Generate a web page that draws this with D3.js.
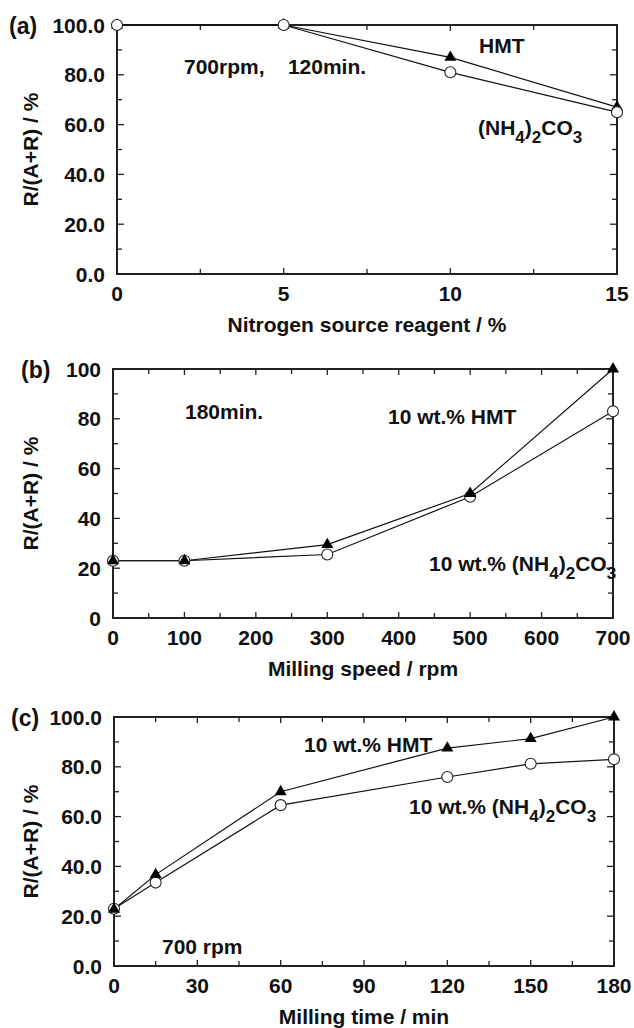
<!DOCTYPE html>
<html>
<head>
<meta charset="utf-8">
<script src="https://cdn.jsdelivr.net/npm/d3@7"></script>
<style>
  html, body { margin: 0; padding: 0; background: #fff; }
  svg { display: block; }
  text { font-family: "Liberation Sans", Arial, sans-serif; font-weight: bold; fill: #111; }
</style>
</head>
<body>
<svg id="chart" width="634" height="1028"></svg>
<script>
// ---- (a) nitrogen source amount, 700 rpm / 120 min ----
const reagentPct = [0, 5, 10, 15];
const hmtByReagent = [100, 100, 87, 67];
const carbByReagent = [100, 100, 81, 65];
const reagentTicks = [0, 5, 10, 15];

// ---- (b) milling speed, 180 min ----
const speedRpm = [0, 100, 300, 500, 700];
const hmtBySpeed = [23, 23, 29.5, 50, 100];
const carbBySpeed = [23, 23, 25.5, 48.7, 83];
const speedTicks = [0, 100, 200, 300, 400, 500, 600, 700];

// ---- (c) milling time, 700 rpm ----
const timeMin = [0, 15, 60, 120, 150, 180];
const hmtByTime = [22.8, 36.7, 70, 87.5, 91.3, 100];
const carbByTime = [23, 33.5, 64.6, 75.9, 81.2, 83];
const timeTicks = [0, 30, 60, 90, 120, 150, 180];

const yTicks = [0, 20, 40, 60, 80, 100];

const svg = d3.select("#chart");

function panel(cfg) {
  const g = svg.append("g");
  const x = d3.scaleLinear().domain(cfg.xDomain).range([cfg.left, cfg.right]);
  const y = d3.scaleLinear().domain([0, 100]).range([cfg.bottom, cfg.top]);

  // inward ticks on all four sides (major + minor)
  const minorX = d3.range(cfg.xDomain[0], cfg.xDomain[1] + 1e-9, cfg.xMinor);
  const minorY = d3.range(0, 100 + 1e-9, 10);
  const tickG = g.append("g").attr("stroke", "#222").attr("stroke-width", 1.3);
  minorX.forEach(v => {
    const major = cfg.xTicks.includes(v);
    const len = major ? 6 : 5;
    tickG.append("line").attr("x1", x(v)).attr("x2", x(v))
      .attr("y1", cfg.bottom).attr("y2", cfg.bottom - len);
    tickG.append("line").attr("x1", x(v)).attr("x2", x(v))
      .attr("y1", cfg.top).attr("y2", cfg.top + len);
  });
  minorY.forEach(v => {
    const major = yTicks.includes(v);
    const len = major ? 7 : 5;
    tickG.append("line").attr("y1", y(v)).attr("y2", y(v))
      .attr("x1", cfg.left).attr("x2", cfg.left + len);
    tickG.append("line").attr("y1", y(v)).attr("y2", y(v))
      .attr("x1", cfg.right).attr("x2", cfg.right - len);
  });

  // frame
  g.append("rect")
    .attr("x", cfg.left).attr("y", cfg.top)
    .attr("width", cfg.right - cfg.left).attr("height", cfg.bottom - cfg.top)
    .attr("fill", "none").attr("stroke", "#222").attr("stroke-width", 2);

  // tick labels
  g.selectAll(".yl").data(yTicks).join("text")
    .attr("x", cfg.left - 12).attr("y", d => y(d))
    .attr("dy", "0.36em").attr("text-anchor", "end")
    .attr("font-size", 21)
    .text(d => d3.format(cfg.yFmt)(d));
  g.selectAll(".xl").data(cfg.xTicks).join("text")
    .attr("x", d => x(d)).attr("y", cfg.bottom + 19)
    .attr("dy", "0.36em").attr("text-anchor", "middle")
    .attr("font-size", 21)
    .text(d => d);

  // axis titles
  g.append("text")
    .attr("x", (cfg.left + cfg.right) / 2).attr("y", cfg.bottom + 50)
    .attr("dy", "0.36em").attr("text-anchor", "middle").attr("font-size", 21)
    .text(cfg.xTitle);
  g.append("text")
    .attr("transform", `translate(30,${(cfg.top + cfg.bottom) / 2}) rotate(-90)`)
    .attr("dy", "0.36em").attr("text-anchor", "middle").attr("font-size", 21)
    .text("R/(A+R) / %");

  // panel tag
  g.append("text").attr("x", cfg.tagX).attr("y", cfg.top + 1)
    .attr("dy", "0.36em").attr("font-size", 23).text(cfg.tag);

  // series
  const line = d3.line().x(d => x(d[0])).y(d => y(d[1]));
  const hmt = cfg.xs.map((v, i) => [v, cfg.hmt[i]]);
  const carb = cfg.xs.map((v, i) => [v, cfg.carb[i]]);
  [hmt, carb].forEach(s => g.append("path").datum(s)
    .attr("d", line).attr("fill", "none").attr("stroke", "#111").attr("stroke-width", 1.2));

  const tri = d3.symbol().type(d3.symbolTriangle).size(62);
  const drawTri = () => g.append("g").selectAll("path").data(hmt).join("path")
    .attr("d", tri).attr("transform", d => `translate(${x(d[0])},${y(d[1])})`)
    .attr("fill", "#000");
  const drawCirc = () => g.append("g").selectAll("circle").data(carb).join("circle")
    .attr("cx", d => x(d[0])).attr("cy", d => y(d[1])).attr("r", 5.5)
    .attr("fill", "#fff").attr("stroke", "#222").attr("stroke-width", 1.1);
  if (cfg.circlesOnTop) { drawTri(); drawCirc(); } else { drawCirc(); drawTri(); }

  // annotations
  cfg.notes.forEach(n => {
    const t = g.append("text").attr("x", n.x).attr("y", n.y)
      .attr("dy", "0.36em").attr("font-size", 21);
    n.parts.forEach(p => {
      const ts = t.append("tspan").text(p.t);
      if (p.sub) ts.attr("font-size", 17).attr("dy", 8);
      else if (p.back) ts.attr("dy", -8);
    });
  });
}

function carbLabel(prefix) {
  return [
    { t: prefix + "(NH" },
    { t: "4", sub: true },
    { t: ")", back: true },
    { t: "2", sub: true },
    { t: "CO", back: true },
    { t: "3", sub: true }
  ];
}

panel({
  tag: "(a)", tagX: 9,
  left: 117, right: 617, top: 25, bottom: 274,
  xDomain: [0, 15], xTicks: reagentTicks, xMinor: 2.5, yFmt: ".1f",
  xTitle: "Nitrogen source reagent / %",
  xs: reagentPct, hmt: hmtByReagent, carb: carbByReagent, circlesOnTop: true,
  notes: [
    { x: 184, y: 66, parts: [{ t: "700rpm,\u00a0\u00a0\u00a0\u00a0120min." }] },
    { x: 479, y: 45, parts: [{ t: "HMT" }] },
    { x: 478, y: 127, parts: carbLabel("") }
  ]
});

panel({
  tag: "(b)", tagX: 21,
  left: 113, right: 613, top: 369, bottom: 618,
  xDomain: [0, 700], xTicks: speedTicks, xMinor: 50, yFmt: "d",
  xTitle: "Milling speed / rpm",
  xs: speedRpm, hmt: hmtBySpeed, carb: carbBySpeed, circlesOnTop: false,
  notes: [
    { x: 185, y: 411, parts: [{ t: "180min." }] },
    { x: 388, y: 416, parts: [{ t: "10 wt.% HMT" }] },
    { x: 429, y: 563, parts: carbLabel("10 wt.% ") }
  ]
});

panel({
  tag: "(c)", tagX: 11,
  left: 114, right: 614, top: 717, bottom: 966,
  xDomain: [0, 180], xTicks: timeTicks, xMinor: 15, yFmt: ".1f",
  xTitle: "Milling time / min",
  xs: timeMin, hmt: hmtByTime, carb: carbByTime, circlesOnTop: false,
  notes: [
    { x: 304, y: 744, parts: [{ t: "10 wt.% HMT" }] },
    { x: 409, y: 806, parts: carbLabel("10 wt.% ") },
    { x: 162, y: 946, parts: [{ t: "700 rpm" }] }
  ]
});
</script>
</body>
</html>
